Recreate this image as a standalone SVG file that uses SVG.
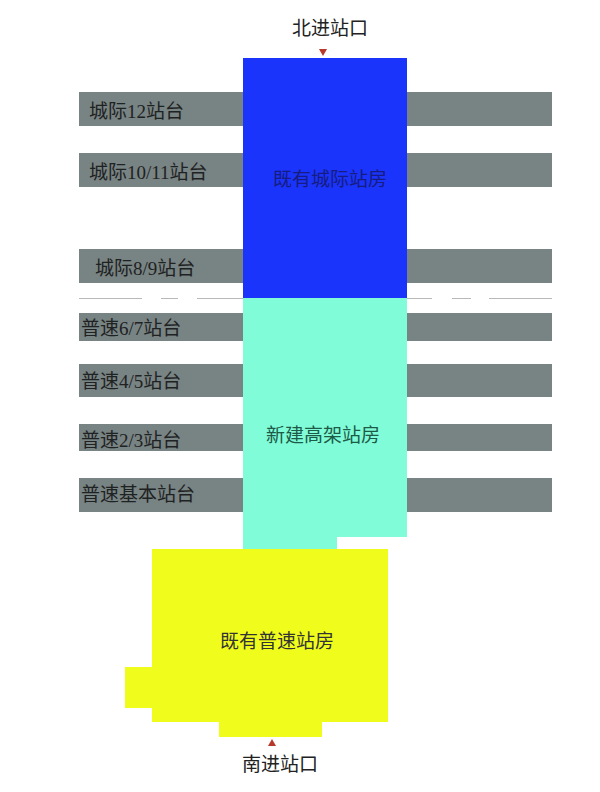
<svg xmlns="http://www.w3.org/2000/svg" width="600" height="792" viewBox="0 0 600 792">
<style>
text{font-family:"Liberation Serif","Noto Sans CJK SC",serif;font-size:19px}
.bar{fill:#788383}
.lbl{fill:#1f2222}
.dash{stroke:#b8b8b8;stroke-width:1.2;fill:none}
.tri{fill:#b8382a}
</style>
<rect width="600" height="792" fill="#ffffff"/>
<g id="platforms">
<g id="p12"><rect class="bar" x="79" y="92" width="473" height="34"/><text class="lbl" x="89" y="118">城际12站台</text></g>
<g id="p1011"><rect class="bar" x="79" y="153" width="473" height="34"/><text class="lbl" x="89" y="179">城际10/11站台</text></g>
<g id="p89"><rect class="bar" x="79" y="249" width="473" height="34"/><text class="lbl" x="95" y="275">城际8/9站台</text></g>
<g id="p67"><rect class="bar" x="79" y="313" width="473" height="28"/><text class="lbl" x="81" y="335">普速6/7站台</text></g>
<g id="p45"><rect class="bar" x="79" y="364" width="473" height="33"/><text class="lbl" x="81" y="388">普速4/5站台</text></g>
<g id="p23"><rect class="bar" x="79" y="424" width="473" height="27"/><text class="lbl" x="81" y="447">普速2/3站台</text></g>
<g id="pbase"><rect class="bar" x="79" y="478" width="473" height="34"/><text class="lbl" x="81" y="501">普速基本站台</text></g>
</g>
<g id="divider">
<path class="dash" d="M79 298.5H142M161 298.5H178M197 298.5H243M407 298.5H432M452 298.5H471M489 298.5H552"/>
</g>
<g id="intercity-station">
<rect x="243" y="58" width="164" height="240" fill="#1a34fb"/>
<text x="330" y="186" text-anchor="middle" fill="#161c80">既有城际站房</text>
</g>
<g id="new-elevated-station">
<polygon points="243,298 407,298 407,537 337,537 337,549 243,549" fill="#80fdd8"/>
<text x="323" y="442" text-anchor="middle" fill="#1d5a48">新建高架站房</text>
</g>
<g id="conventional-station">
<polygon points="152,549 388,549 388,722 322,722 322,737 219,737 219,722 152,722 152,708 125,708 125,667 152,667" fill="#f0fd1c"/>
<text x="277" y="648" text-anchor="middle" fill="#333333">既有普速站房</text>
</g>
<g id="north-entrance">
<text x="330" y="35" text-anchor="middle" fill="#222">北进站口</text>
<polygon class="tri" points="319,49 327,49 323,56"/>
</g>
<g id="south-entrance">
<polygon class="tri" points="268,746 276,746 272,739"/>
<text x="280" y="771" text-anchor="middle" fill="#222">南进站口</text>
</g>
</svg>
